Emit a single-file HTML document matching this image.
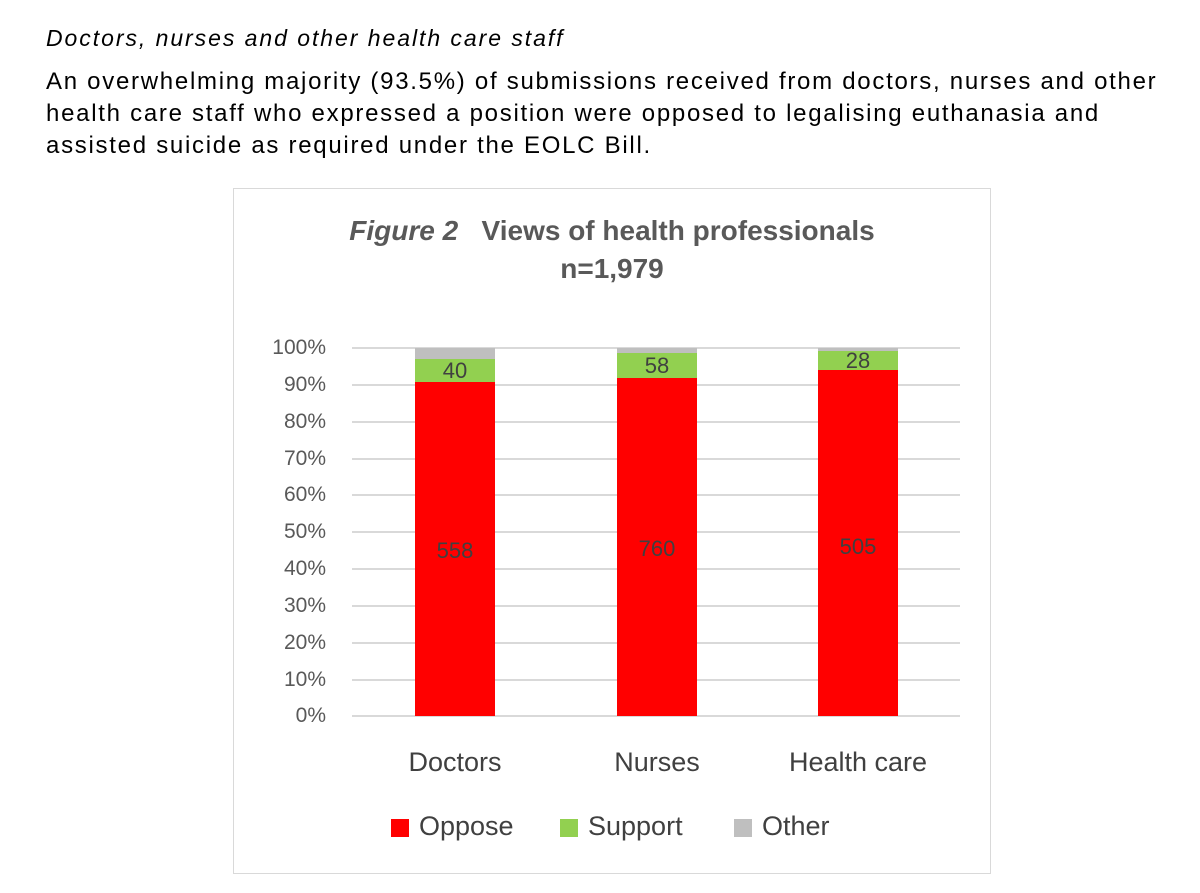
<!DOCTYPE html>
<html><head><style>
body{margin:0;width:1200px;height:893px;background:#fff;position:relative;font-family:"Liberation Sans",sans-serif;overflow:hidden}
.a{position:absolute}
.t{font-size:24px;color:#000;line-height:32px;white-space:nowrap}
.yl{position:absolute;width:80px;text-align:right;font-size:21px;color:#595959;left:246px}
.g{position:absolute;left:352px;width:608px;height:2px;background:#d9d9d9}
.lbl{position:absolute;font-size:22px;color:#404040;text-align:center;width:80px}
.cat{position:absolute;font-size:27px;color:#404040;text-align:center;width:200px;top:747px}
</style></head><body>
<div class="a t" style="left:46px;top:22px;font-style:italic;font-size:23px;letter-spacing:1.95px">Doctors, nurses and other health care staff</div>
<div class="a t" style="left:46px;top:66px;letter-spacing:1.72px">An overwhelming majority (93.5%) of submissions received from doctors, nurses and other<br>health care staff who expressed a position were opposed to legalising euthanasia and<br>assisted suicide as required under the EOLC Bill.</div>
<div class="a" style="left:233px;top:188px;width:756px;height:684px;border:1px solid #d9d9d9"></div>
<div class="a" style="left:233px;top:212px;width:758px;text-align:center;font-size:28px;font-weight:bold;color:#595959;line-height:38px"><i>Figure 2</i>&nbsp;&nbsp; Views of health professionals<br>n=1,979</div>

<div class="g" style="top:347px"></div><div class="g" style="top:384px"></div><div class="g" style="top:421px"></div><div class="g" style="top:458px"></div><div class="g" style="top:494px"></div><div class="g" style="top:531px"></div><div class="g" style="top:568px"></div><div class="g" style="top:605px"></div><div class="g" style="top:642px"></div><div class="g" style="top:679px"></div><div class="g" style="top:715px"></div>

<div class="yl" style="top:336px">100%</div><div class="yl" style="top:373px">90%</div><div class="yl" style="top:410px">80%</div><div class="yl" style="top:447px">70%</div><div class="yl" style="top:483px">60%</div><div class="yl" style="top:520px">50%</div><div class="yl" style="top:557px">40%</div><div class="yl" style="top:594px">30%</div><div class="yl" style="top:631px">20%</div><div class="yl" style="top:668px">10%</div><div class="yl" style="top:704px">0%</div>

<div class="a" style="left:415px;top:348px;width:80px;height:11px;background:#bfbfbf"></div>
<div class="a" style="left:415px;top:359px;width:80px;height:23px;background:#92d050"></div>
<div class="a" style="left:415px;top:382px;width:80px;height:334px;background:#ff0000"></div>
<div class="a" style="left:617px;top:348px;width:80px;height:5px;background:#bfbfbf"></div>
<div class="a" style="left:617px;top:353px;width:80px;height:25px;background:#92d050"></div>
<div class="a" style="left:617px;top:378px;width:80px;height:338px;background:#ff0000"></div>
<div class="a" style="left:818px;top:348px;width:80px;height:3px;background:#bfbfbf"></div>
<div class="a" style="left:818px;top:351px;width:80px;height:19px;background:#92d050"></div>
<div class="a" style="left:818px;top:370px;width:80px;height:346px;background:#ff0000"></div>

<div class="lbl" style="left:415px;top:358px">40</div>
<div class="lbl" style="left:617px;top:353px">58</div>
<div class="lbl" style="left:818px;top:348px">28</div>
<div class="lbl" style="left:415px;top:538px">558</div>
<div class="lbl" style="left:617px;top:536px">760</div>
<div class="lbl" style="left:818px;top:534px">505</div>

<div class="cat" style="left:355px">Doctors</div>
<div class="cat" style="left:557px">Nurses</div>
<div class="cat" style="left:758px">Health care</div>

<div class="a" style="left:391px;top:819px;width:18px;height:18px;background:#ff0000"></div>
<div class="a" style="left:419px;top:811px;font-size:27px;color:#404040">Oppose</div>
<div class="a" style="left:560px;top:819px;width:18px;height:18px;background:#92d050"></div>
<div class="a" style="left:588px;top:811px;font-size:27px;color:#404040">Support</div>
<div class="a" style="left:734px;top:819px;width:18px;height:18px;background:#bfbfbf"></div>
<div class="a" style="left:762px;top:811px;font-size:27px;color:#404040">Other</div>
</body></html>
